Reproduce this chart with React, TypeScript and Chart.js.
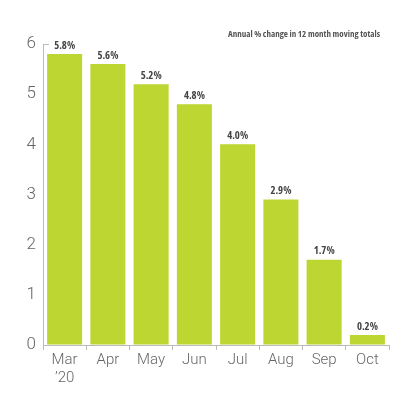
import React, { useEffect, useRef } from "react";
import { Chart, registerables } from "chart.js";

Chart.register(...registerables);

const categories: (string | string[])[] = [["Mar", "\u201920"], "Apr", "May", "Jun", "Jul", "Aug", "Sep", "Oct"];
const values: number[] = [5.8, 5.6, 5.2, 4.8, 4.0, 2.9, 1.7, 0.2];
const yTicks: number[] = [0, 1, 2, 3, 4, 5, 6];
const subtitle = "Annual % change in 12 month moving totals";

const narrow = "'Open Sans', sans-serif";
const light = "Roboto, 'Open Sans', sans-serif";

function drawCondensed(ctx: any, text: string, x: number, y: number, targetWidth: number | null) {
  const w = ctx.measureText(text).width;
  if (targetWidth && w > targetWidth) {
    ctx.save();
    const k = targetWidth / w;
    ctx.translate(x, y);
    ctx.scale(k, 1);
    ctx.fillText(text, 0, 0);
    ctx.restore();
  } else {
    ctx.fillText(text, x, y);
  }
}

const overlay = {
  id: "overlay",
  afterDatasetsDraw(chart: any) {
    const ctx = chart.ctx;
    const meta = chart.getDatasetMeta(0);
    ctx.save();
    try { ctx.fontStretch = "condensed"; } catch (e) {}
    ctx.font = `bold condensed 11px ${narrow}`;
    try { ctx.fontStretch = "condensed"; } catch (e) {}
    ctx.fillStyle = "#444";
    ctx.textAlign = "center";
    ctx.textBaseline = "bottom";
    meta.data.forEach((bar: any, i: number) => {
      drawCondensed(ctx, `${values[i].toFixed(1)}%`, bar.x, bar.y - 3, 21);
    });
    // small tick at top of y axis
    const ys = chart.scales.y;
    const yTop = ys.getPixelForValue(ys.max);
    ctx.strokeStyle = "#bbb";
    ctx.lineWidth = 1;
    ctx.beginPath();
    ctx.moveTo(chart.chartArea.left, Math.round(yTop) + 0.5);
    ctx.lineTo(chart.chartArea.left + 6, Math.round(yTop) + 0.5);
    ctx.stroke();
    // subtitle
    ctx.font = `bold condensed 9.5px ${narrow}`;
    try { ctx.fontStretch = "condensed"; } catch (e) {}
    ctx.fillStyle = "#555";
    ctx.textAlign = "right";
    ctx.textBaseline = "middle";
    drawCondensed(ctx, subtitle, chart.width - 20, 34, 152);
    ctx.restore();
  },
};

export default function App() {
  const ref = useRef<HTMLCanvasElement | null>(null);
  useEffect(() => {
    if (!ref.current) return;
    const chart = new Chart(ref.current, {
      type: "bar",
      data: {
        labels: categories,
        datasets: [
          {
            data: values,
            backgroundColor: "#bdd631",
            borderWidth: 0,
            barPercentage: 0.81,
            categoryPercentage: 1,
          },
        ],
      },
      options: {
        animation: false,
        responsive: false,
        devicePixelRatio: 1,
        layout: { padding: { top: 44, right: 11, left: 0, bottom: 0 } },
        plugins: { legend: { display: false }, tooltip: { enabled: false }, title: { display: false } },
        scales: {
          x: {
            grid: { display: true, drawOnChartArea: false, tickLength: 5, color: "#bbb", offset: true },
            border: { display: true, color: "#bbb" },
            ticks: { color: "#666", font: { family: light, size: 15, weight: "300" }, padding: 1, maxRotation: 0 },
            afterFit: (s: any) => { s.height = 55; },
          },
          y: {
            min: 0,
            max: 6,
            afterBuildTicks: (s: any) => { s.ticks = yTicks.map((v) => ({ value: v })); },
            grid: { display: true, drawOnChartArea: false, tickLength: 0, color: "rgba(0,0,0,0)" },
            border: { display: true, color: "#bbb" },
            ticks: { color: "#666", font: { family: light, size: 17, weight: "300" }, padding: 7 },
            afterFit: (s: any) => { s.width = 43; },
          },
        },
      },
      plugins: [overlay],
    });
    return () => chart.destroy();
  }, []);
  return (
    <div style={{ position: "absolute", left: 0, top: 0, width: 400, height: 400, background: "#fff" }}>
      <canvas ref={ref} width={400} height={400} style={{ width: 400, height: 400 }} />
    </div>
  );
}
